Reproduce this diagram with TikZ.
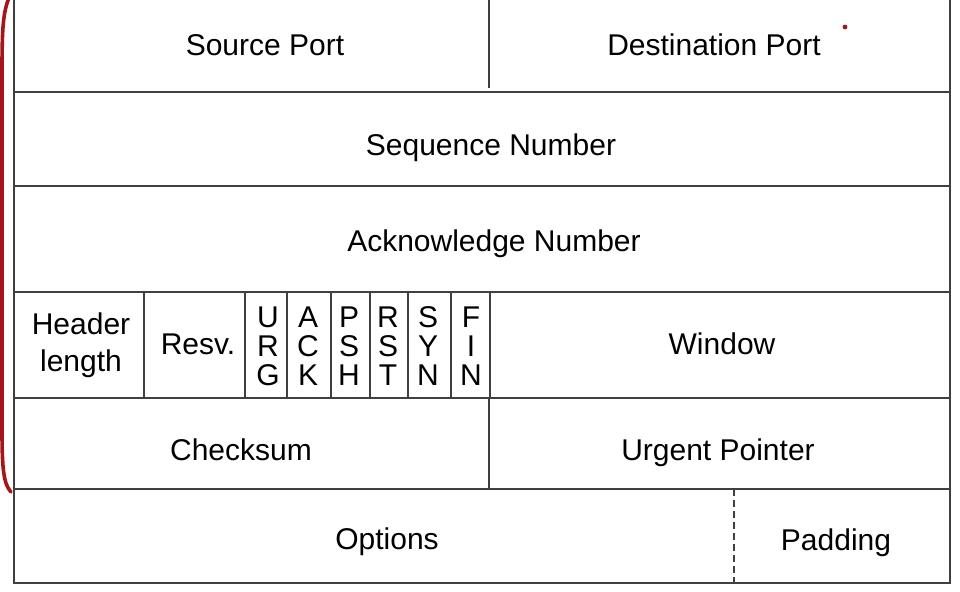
\documentclass[tikz,border=0pt]{standalone}
\usepackage{fontspec}
\setmainfont{Liberation Sans}
\usetikzlibrary{positioning}

\definecolor{rulegray}{RGB}{64,64,64}
\definecolor{bracketred}{RGB}{165,22,26}

\begin{document}
\begin{tikzpicture}[x=1pt,y=-1pt]
    \useasboundingbox (0,0) rectangle (960,591);

    %Frame and rows
     \begin{scope}[every path/.style={draw=rulegray, line width=1.7pt}]
       \draw (14,-2) -- (14,583) -- (950,583) -- (950,-2);
       \draw (14,92) -- (950,92);
       \draw (14,186) -- (950,186);
       \draw (14,292) -- (950,292);
       \draw (14,398) -- (950,398);
       \draw (14,489) -- (950,489);
       \draw (489,-2) -- (489,88);
       \draw (489,398) -- (489,489);
    \end{scope}

    %Flag columns
     \begin{scope}[every path/.style={draw=rulegray, line width=1.4pt}]
       \foreach \xpos in {144,245,287,331,370,408,451,490}
         \draw (\xpos,292) -- (\xpos,398);
    \end{scope}
    \draw[rulegray, line width=1.2pt, dash pattern=on 7pt off 4pt] (734,489) -- (734,583);

    %Field names
     \begin{scope}[every node/.style={font=\fontsize{30}{36}\selectfont, inner sep=0pt}]
       \node[anchor=base] (srcport) at (265,56) {Source Port};
       \node[anchor=base] (dstport) at (714,56) {Destination Port};
       \node[anchor=base] (seqnum) at (491,155) {Sequence Number};
       \node[anchor=base] (acknum) at (494,251) {Acknowledge Number};
       \node[align=center, font=\fontsize{30}{37}\selectfont] (hdrlen) at (81,345) {Header\\length};
       \node[anchor=base] (resv) at (198,354) {Resv.};
       \node[anchor=base] (window) at (722,354) {Window};
       \node[anchor=base] (checksum) at (241,460) {Checksum};
       \node[anchor=base] (urgptr) at (718,460) {Urgent Pointer};
       \node[anchor=base] (options) at (387,549) {Options};
       \node[anchor=base] (padding) at (836,550) {Padding};
    \end{scope}

    %Flag letters
     \begin{scope}[every node/.style={font=\fontsize{30}{29}\selectfont, align=center, inner sep=0pt}]
       \node (urg) at (268,346) {U\\R\\G};
       \node (ack) at (308,346) {A\\C\\K};
       \node (psh) at (349,346) {P\\S\\H};
       \node (rst) at (388,346) {R\\S\\T};
       \node (syn) at (428,346) {S\\Y\\N};
       \node (fin) at (471,346) {F\\I\\N};
    \end{scope}

    %Red marks
    \draw[bracketred, line width=3.6pt, line cap=round]
      (9,-2) .. controls (3,12) and (2,30) .. (2,70) -- (2,430)
      .. controls (2,468) and (3.5,484) .. (11,492);
    \fill[bracketred] (845,27) circle (2.4);
  \end{tikzpicture}
\end{document}
